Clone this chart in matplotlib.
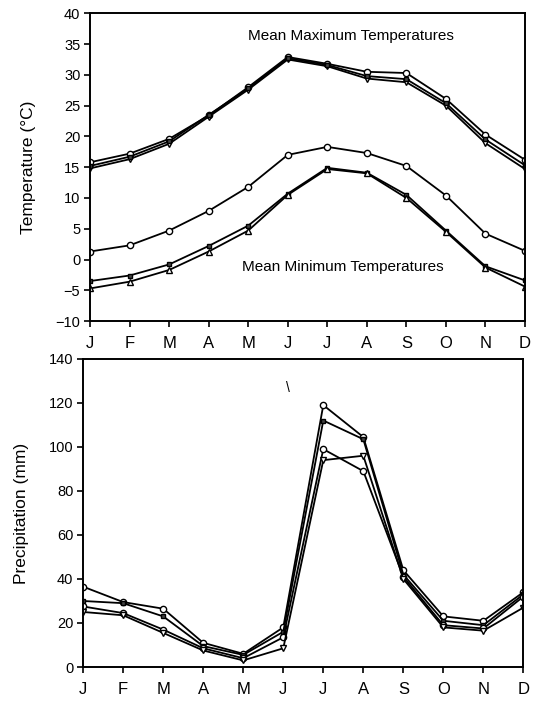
import matplotlib.pyplot as plt

plt.rcParams["font.family"] = ["Liberation Sans", "DejaVu Sans"]

months = ["J", "F", "M", "A", "M", "J", "J", "A", "S", "O", "N", "D"]

# mean maximum temperatures (deg C), three stations
tmax_a = [15.8, 17.2, 19.6, 23.4, 28.0, 32.9, 31.8, 30.5, 30.3, 26.1, 20.3, 16.2]
tmax_b = [14.8, 16.3, 18.8, 23.2, 27.6, 32.5, 31.4, 29.4, 28.8, 25.0, 18.9, 14.7]
tmax_c = [15.2, 16.7, 19.2, 23.5, 27.8, 32.7, 31.6, 29.8, 29.3, 25.4, 19.5, 15.3]

# mean minimum temperatures (deg C)
tmin_a = [1.3, 2.3, 4.7, 7.9, 11.8, 17.0, 18.3, 17.3, 15.2, 10.4, 4.2, 1.4]
tmin_b = [-3.5, -2.6, -0.8, 2.2, 5.5, 10.7, 14.9, 14.1, 10.5, 4.7, -1.1, -3.4]
tmin_c = [-4.7, -3.6, -1.7, 1.3, 4.7, 10.5, 14.7, 14.0, 10.0, 4.5, -1.3, -4.4]

# monthly precipitation (mm), four stations
prec_a = [36.5, 29.5, 26.5, 11.0, 6.0, 18.0, 119.0, 104.5, 44.0, 23.0, 21.0, 34.0]
prec_b = [30.0, 29.0, 23.0, 9.5, 5.5, 16.0, 112.0, 103.5, 42.0, 21.0, 19.0, 33.0]
prec_c = [27.5, 24.5, 17.0, 8.5, 4.0, 13.5, 99.0, 89.0, 41.0, 19.0, 17.5, 32.0]
prec_d = [25.0, 23.5, 15.5, 7.5, 3.0, 8.5, 94.0, 96.0, 40.0, 18.0, 16.5, 27.0]

x = list(range(len(months)))

fig = plt.figure(figsize=(5.33, 7.01), dpi=100)
ax1 = fig.add_axes([0.169, 0.542, 0.816, 0.439])
ax2 = fig.add_axes([0.156, 0.0485, 0.826, 0.4395])

line_kw = dict(color="black", linewidth=1.3, markersize=4.5, markeredgewidth=1.0)
dot_kw = dict(color="black", linewidth=1.3, markersize=3.5, marker="s",
              markerfacecolor="#444444")

ax1.plot(x, tmax_a, marker="o", markerfacecolor="white", **line_kw)
ax1.plot(x, tmax_b, marker="v", markerfacecolor="white", **line_kw)
ax1.plot(x, tmax_c, **dot_kw)
ax1.plot(x, tmin_a, marker="o", markerfacecolor="white", **line_kw)
ax1.plot(x, tmin_b, **dot_kw)
ax1.plot(x, tmin_c, marker="^", markerfacecolor="white", **line_kw)

ax1.set_xlim(0, 11)
ax1.set_ylim(-10, 40)
ax1.set_yticks(range(-10, 41, 5))
ax1.set_xticks(x)
ax1.set_xticklabels(months, fontsize=12)
ax1.set_ylabel("Temperature (°C)", fontsize=12.5, labelpad=14)
ax1.text(0.6, 0.925, "Mean Maximum Temperatures", transform=ax1.transAxes,
         fontsize=11, ha="center", va="center")
ax1.text(0.58, 0.175, "Mean Minimum Temperatures", transform=ax1.transAxes,
         fontsize=11, ha="center", va="center")

ax2.plot(x, prec_a, marker="o", markerfacecolor="white", **line_kw)
ax2.plot(x, prec_b, **dot_kw)
ax2.plot(x, prec_c, marker="o", markerfacecolor="white", **line_kw)
ax2.plot(x, prec_d, marker="v", markerfacecolor="white", **line_kw)
# stray scan mark above the July peak
ax2.text(0.465, 0.905, "\\", transform=ax2.transAxes, fontsize=10,
         ha="center", va="center")

ax2.set_xlim(0, 11)
ax2.set_ylim(0, 140)
ax2.set_yticks(range(0, 141, 20))
ax2.set_xticks(x)
ax2.set_xticklabels(months, fontsize=12)
ax2.set_ylabel("Precipitation (mm)", fontsize=12.5, labelpad=14)

for ax in (ax1, ax2):
    for side in ax.spines.values():
        side.set_linewidth(1.4)
    ax.tick_params(axis="both", direction="out", length=4, width=1.2)
    ax.tick_params(axis="y", labelsize=10.5, pad=3)
    ax.tick_params(axis="x", pad=7)

fig.savefig("out.png", dpi=100)
